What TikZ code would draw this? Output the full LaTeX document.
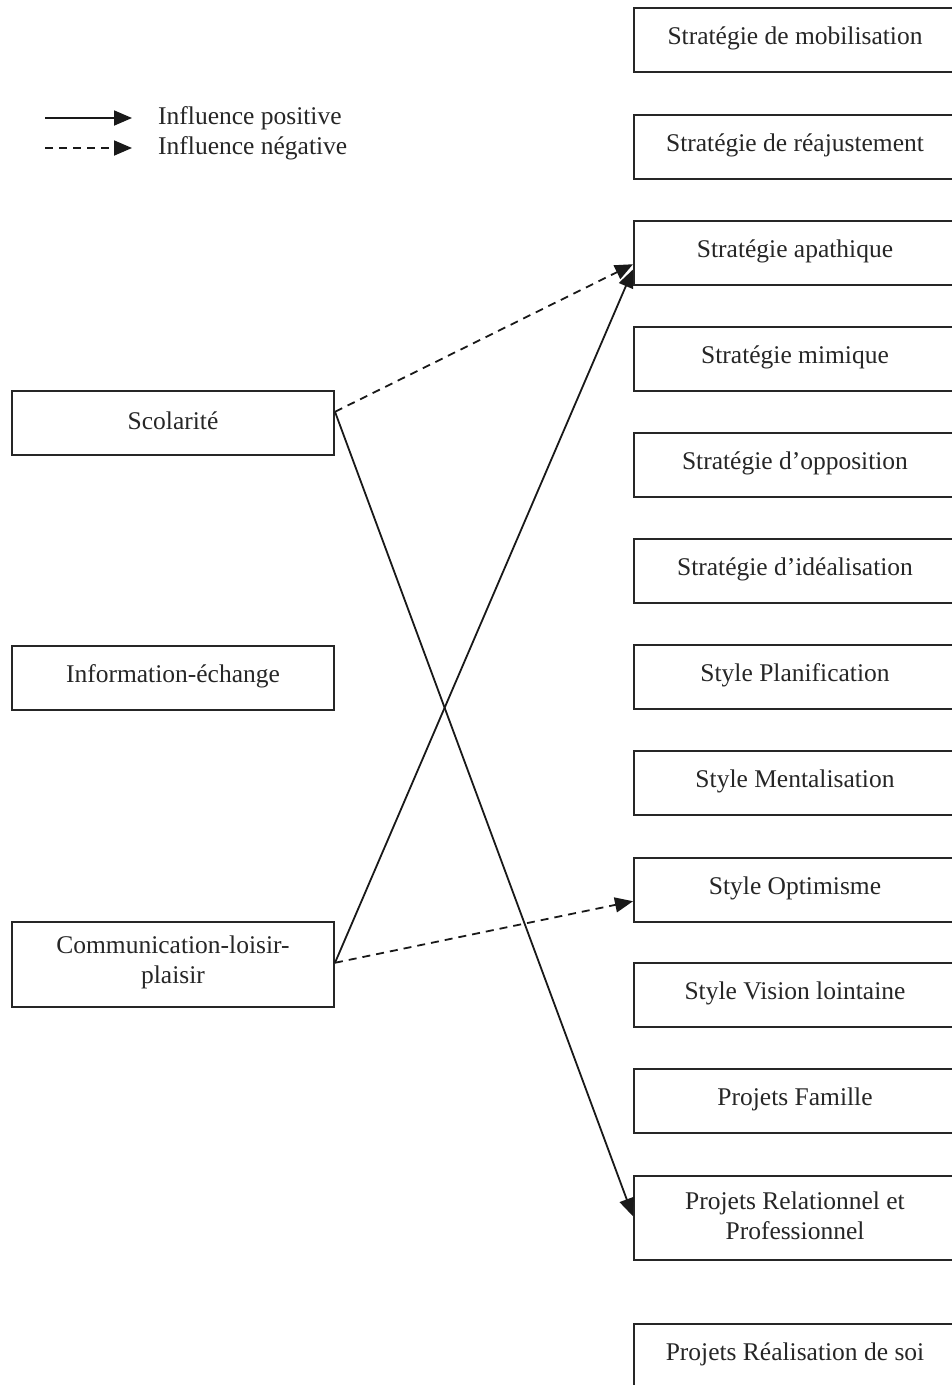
\documentclass[tikz,border=0pt]{standalone}
\usepackage{fontspec}
\setmainfont{Liberation Serif}
\usetikzlibrary{arrows.meta,calc}
\tikzset{
  every picture/.style={x=1pt,y=-1pt},
  txt/.style={font=\fontsize{25.5}{30}\selectfont, text=black!85, align=center},
  box/.style={draw=black!85, line width=2pt, minimum width=322pt, minimum height=64pt, inner sep=0pt, anchor=north west},
  lbl/.style={txt, yshift=2pt},
  posarrow/.style={line width=1.8pt, black!90, -{Triangle[length=18pt,width=15pt]}},
  negarrow/.style={posarrow, dash pattern=on 8pt off 6pt},
}
\begin{document}
\begin{tikzpicture}
\useasboundingbox (0,0) rectangle (952,1385);
% legend
\coordinate (la1) at (45,118);
\coordinate (lb1) at (132,118);
\coordinate (la2) at (45,148);
\coordinate (lb2) at (132,148);
\draw[posarrow] (la1) -- (lb1);
\draw[negarrow] (la2) -- (lb2);
\node[txt, anchor=west, inner sep=0pt] (lt1) at (158,118) {Influence positive};
\node[txt, anchor=west, inner sep=0pt] (lt2) at (158,148) {Influence négative};
% right column
\node[box, label={[lbl]center:Stratégie de mobilisation}] (r1) at (633,7) {};
\node[box, label={[lbl]center:Stratégie de réajustement}] (r2) at (633,114) {};
\node[box, label={[lbl]center:Stratégie apathique}] (r3) at (633,220) {};
\node[box, label={[lbl]center:Stratégie mimique}] (r4) at (633,326) {};
\node[box, label={[lbl]center:Stratégie d’opposition}] (r5) at (633,432) {};
\node[box, label={[lbl]center:Stratégie d’idéalisation}] (r6) at (633,538) {};
\node[box, label={[lbl]center:Style Planification}] (r7) at (633,644) {};
\node[box, label={[lbl]center:Style Mentalisation}] (r8) at (633,750) {};
\node[box, label={[lbl]center:Style Optimisme}] (r9) at (633,857) {};
\node[box, label={[lbl]center:Style Vision lointaine}] (r10) at (633,962) {};
\node[box, label={[lbl]center:Projets Famille}] (r11) at (633,1068) {};
\node[box, minimum height=84pt, label={[lbl]center:Projets Relationnel et\\Professionnel}] (r12) at (633,1175) {};
\node[box, label={[lbl]center:Projets Réalisation de soi}] (r13) at (633,1323) {};
% left column
\node[box, label={[lbl]center:Scolarité}] (scol) at (11,390) {};
\node[box, label={[lbl]center:Information-échange}] (info) at (11,645) {};
\node[box, minimum height=85pt, label={[lbl]center:Communication-loisir-\\plaisir}] (comm) at (11,921) {};
% connector end points
\coordinate (sA) at ($(scol.north east)!0.33!(scol.south east)$);
\coordinate (cA) at ($(comm.north east)!0.48!(comm.south east)$);
\coordinate (apN) at ($(r3.north west)!0.67!(r3.south west)$);
\coordinate (apP) at ($(r3.north west)!0.75!(r3.south west)$);
\coordinate (opN) at ($(r9.north west)!0.67!(r9.south west)$);
\coordinate (reP) at ($(r12.north west)!0.48!(r12.south west)$);
\draw[negarrow] (sA) -- (apN);
\draw[posarrow] (sA) -- (reP);
\draw[posarrow] (cA) -- (apP);
\draw[negarrow] (cA) -- (opN);
\end{tikzpicture}
\end{document}
